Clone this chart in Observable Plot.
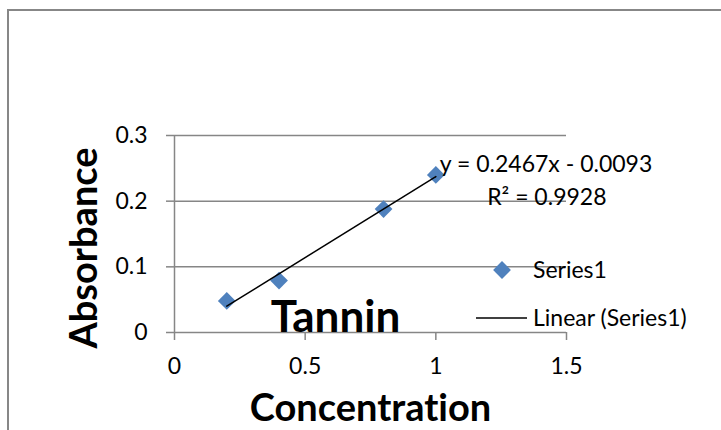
<!DOCTYPE html>
<html>
<head>
<meta charset="utf-8">
<script src="https://cdn.jsdelivr.net/npm/d3@7"></script>
<script src="https://cdn.jsdelivr.net/npm/@observablehq/plot@0.6"></script>
<style>
  html, body { margin: 0; padding: 0; background: #fff; }
  #wrap { position: relative; width: 721px; height: 430px; overflow: hidden; font-family: Lato, sans-serif; }
  #border { position: absolute; left: 7px; top: 9px; width: 800px; height: 500px;
            border-left: 2px solid #878787; border-top: 2px solid #878787; pointer-events: none; }
  #chart { position: absolute; left: 0; top: 0; }
  #legend { position: absolute; left: 0; top: 0; pointer-events: none; }
  svg text { font-variant-ligatures: none; }
</style>
</head>
<body>
<div id="wrap">
  <div id="border"></div>
  <div id="chart"></div>
  <svg id="legend" width="721" height="430"></svg>
</div>
<script>
// ---- data ----
const concentration = [0.2, 0.4, 0.8, 1.0];
const absorbance = [0.048, 0.079, 0.188, 0.24];
const xTicks = [0, 0.5, 1, 1.5];
const yTicks = [0, 0.1, 0.2, 0.3];
const chartTitle = "Tannin";
const xLabel = "Concentration";
const yLabel = "Absorbance";
const equationText = "y = 0.2467x - 0.0093";
const rSquaredText = "R² = 0.9928";
const seriesName = "Series1";
const trendName = "Linear (Series1)";

const blue = "#4F81BD";
const gray = "#868686";

const points = concentration.map((c, i) => ({x: c, y: absorbance[i]}));
const lastPoint = [points[points.length - 1]];

const chart = Plot.plot({
  width: 721,
  height: 430,
  marginLeft: 174,
  marginRight: 155,
  marginTop: 135,
  marginBottom: 98,
  style: {fontFamily: "Lato, sans-serif", background: "transparent", overflow: "visible"},
  x: {domain: [0, 1.5]},
  y: {domain: [0, 0.3]},
  marks: [
    Plot.gridY(yTicks, {stroke: gray, strokeOpacity: 1, strokeWidth: 1.5}),
    Plot.ruleX([0], {stroke: gray, strokeWidth: 1.5}),
    Plot.axisY({ticks: yTicks, tickSize: 8, tickPadding: 19, stroke: gray, strokeWidth: 1.5,
      color: "black", fontSize: 23, label: null, tickFormat: d => String(d)}),
    Plot.axisX({ticks: xTicks, tickSize: 8, tickPadding: 17, stroke: gray, strokeWidth: 1.5,
      color: "black", fontSize: 23, label: null, tickFormat: d => String(d)}),
    Plot.text([chartTitle], {frameAnchor: "bottom", textAnchor: "middle", dx: -35, dy: -1, fontSize: 44, fontWeight: "bold", fill: "black"}),
    Plot.dot(points, {x: "x", y: "y", symbol: "diamond2", r: 8, fill: blue, stroke: "none"}),
    Plot.linearRegressionY(points, {x: "x", y: "y", ci: 0, stroke: "black", strokeWidth: 1.5}),
    Plot.text(lastPoint, {x: "x", y: "y", text: () => equationText, textAnchor: "start", dx: 4, dy: -10, fontSize: 23, fill: "black"}),
    Plot.text(lastPoint, {x: "x", y: "y", text: () => rSquaredText, textAnchor: "middle", dx: 111, dy: 23, fontSize: 23, fill: "black"}),
    Plot.text([yLabel], {frameAnchor: "left", textAnchor: "middle", rotate: -90, dx: -90, dy: 14, fontSize: 38, fontWeight: "bold", fill: "black"}),
    Plot.text([xLabel], {frameAnchor: "bottom", textAnchor: "middle", dx: 0, dy: 88, fontSize: 38, fontWeight: "bold", fill: "black"})
  ]
});
document.getElementById("chart").appendChild(chart);

// ---- legend ----
const lg = d3.select("#legend");
lg.append("path").attr("d", d3.symbol(d3.symbolDiamond2, Math.PI * 64)()).attr("transform", "translate(502,270)").attr("fill", blue);
lg.append("text").attr("x", 533).attr("y", 278).attr("font-size", 23).attr("font-family", "Lato, sans-serif").text(seriesName);
lg.append("line").attr("x1", 476).attr("x2", 527).attr("y1", 318).attr("y2", 318).attr("stroke", "black").attr("stroke-width", 1.5);
lg.append("text").attr("x", 533).attr("y", 326).attr("font-size", 23).attr("font-family", "Lato, sans-serif").text(trendName);
</script>
</body>
</html>
